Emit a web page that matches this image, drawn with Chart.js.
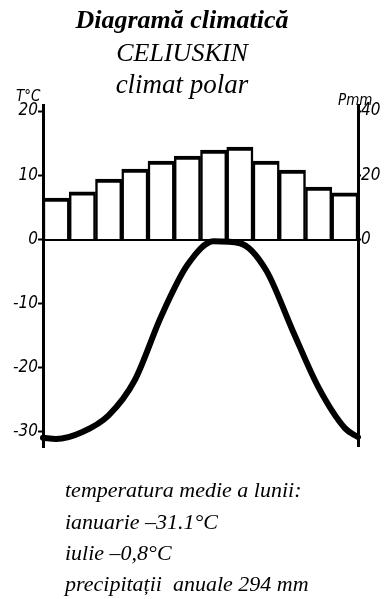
<!DOCTYPE html>
<html>
<head>
<meta charset="utf-8">
<script src="https://cdn.jsdelivr.net/npm/chart.js@4/dist/chart.umd.min.js"></script>
<style>
  html, body { margin: 0; padding: 0; background: #fff; }
  #wrap { position: relative; width: 387px; height: 599px; }
  .t { position: absolute; font-family: "Liberation Serif", "Times New Roman", serif; font-style: italic; color: #000; white-space: pre; line-height: 22px; font-size: 22px; }
  .c { left: 0; width: 364px; text-align: center; }
  .h { font-family: "DejaVu Sans Condensed", "DejaVu Sans", sans-serif; font-size: 15px; line-height: 15px; }
</style>
</head>
<body>
<div id="wrap">
  <canvas id="chart" width="387" height="599"></canvas>
  <div class="t c" style="top:7px; font-weight:bold; font-size:26px; line-height:26px;">Diagramă climatică</div>
  <div class="t c" style="top:40px; font-size:26px; line-height:26px;">CELIUSKIN</div>
  <div class="t c" style="top:71px; font-size:27px; line-height:27px;">climat polar</div>
  <div class="t h" style="left:16px; top:89px;">T°C</div>
  <div class="t h" style="left:338px; top:93px;">Pmm</div>
  <div class="t" style="left:65px; top:479px;">temperatura medie a lunii:</div>
  <div class="t" style="left:65px; top:511px;">ianuarie –31.1°C</div>
  <div class="t" style="left:65px; top:542px;">iulie –0,8°C</div>
  <div class="t" style="left:65px; top:573px;">precipitații  anuale 294 mm</div>
</div>
<script>
const months = ['I','II','III','IV','V','VI','VII','VIII','IX','X','XI','XII'];
const precipitation = [12.9, 14.8, 18.8, 21.9, 24.4, 26.0, 27.8, 28.8, 24.4, 21.6, 16.3, 14.5];
const temperatureMonthPos = [0, 0.5, 1.5, 2.5, 3.5, 4.5, 5.5, 6.5, 7.5, 8.5, 9.5, 10.5, 11.5, 12];
const temperature = [-30.9, -31.1, -30.0, -27.4, -21.9, -12.0, -4.0, -0.3, -0.6, -4.8, -14.1, -23.1, -29.4, -30.8];
const tempTicks = [-30, -20, -10, 0, 10, 20];
const precipTicks = [0, 20, 40];

const tickFont = { family: '"DejaVu Sans Condensed", "DejaVu Sans", sans-serif', size: 17, style: 'italic' };

new Chart(document.getElementById('chart'), {
  type: 'bar',
  data: {
    labels: months,
    datasets: [
      {
        type: 'line',
        data: temperatureMonthPos.map((m, i) => ({ x: m, y: temperature[i] })),
        xAxisID: 'xl',
        yAxisID: 'yT',
        borderColor: '#000',
        borderWidth: 6,
        pointRadius: 0,
        fill: false,
        cubicInterpolationMode: 'monotone',
        borderCapStyle: 'round',
        clip: false,
        order: 0
      },
      {
        type: 'bar',
        data: precipitation,
        xAxisID: 'x',
        yAxisID: 'yP',
        backgroundColor: '#fff',
        borderColor: '#000',
        borderWidth: { top: 4, left: 2.5, right: 2.5, bottom: 0 },
        borderSkipped: false,
        categoryPercentage: 1,
        barPercentage: 1,
        grouped: false,
        order: 1
      }
    ]
  },
  options: {
    responsive: false,
    animation: false,
    layout: { padding: { top: 105.9, bottom: 152.9, left: 0, right: 0 } },
    plugins: { legend: { display: false }, tooltip: { enabled: false }, title: { display: false } },
    scales: {
      x: { type: 'category', display: false, offset: true },
      xl: { type: 'linear', display: false, min: 0, max: 12, offset: false },
      yT: {
        type: 'linear', position: 'left', min: -32.2, max: 20.8,
        afterFit: s => { s.width = 43; },
        border: { display: true, color: '#000', width: 3 },
        grid: {
          drawOnChartArea: true,
          color: c => (c.tick && c.tick.value === 0) ? '#000' : 'rgba(0,0,0,0)',
          lineWidth: 3,
          tickColor: '#000', tickWidth: 2, tickLength: 5
        },
        afterBuildTicks: s => { s.ticks = tempTicks.map(v => ({ value: v })); },
        ticks: { color: '#000', font: tickFont, padding: 0, callback: v => String(v) }
      },
      yP: {
        type: 'linear', position: 'right', min: -64.4, max: 41.6,
        afterFit: s => { s.width = 29; },
        border: { display: true, color: '#000', width: 3 },
        grid: { drawOnChartArea: false, tickColor: '#000', tickWidth: 2, tickLength: 3 },
        afterBuildTicks: s => { s.ticks = precipTicks.map(v => ({ value: v })); },
        ticks: { color: '#000', font: tickFont, padding: 0, callback: v => String(v) }
      }
    }
  }
});
</script>
</body>
</html>
